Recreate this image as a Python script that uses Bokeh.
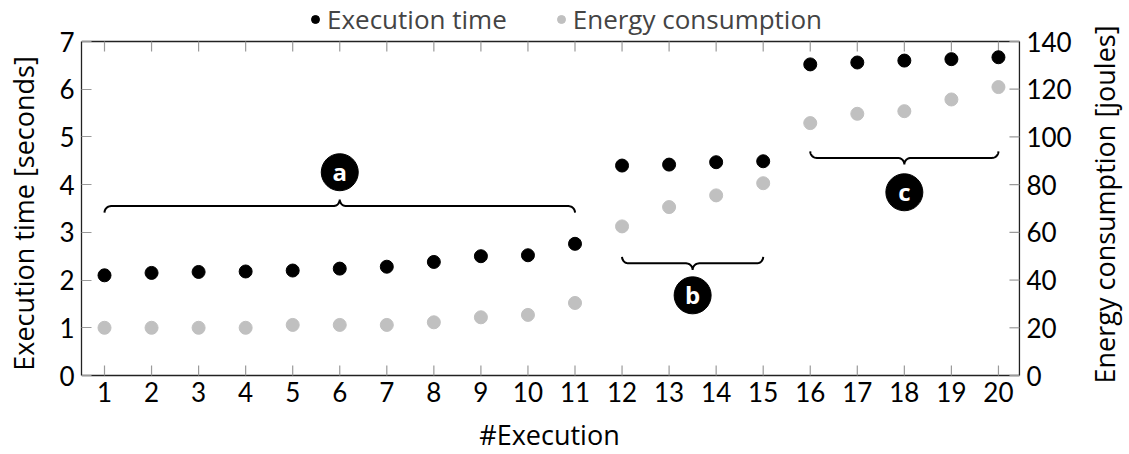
import math
import numpy as np
from bokeh.plotting import figure
from bokeh.models import Range1d, FixedTicker, Legend, LegendItem
from bokeh.core.properties import value
from bokeh.embed import file_html
from bokeh.resources import INLINE

# ---------------- data ----------------
executions = list(range(1, 21))
exec_time = [2.10, 2.15, 2.17, 2.18, 2.20, 2.24, 2.28, 2.38, 2.50, 2.52,
             2.76, 4.40, 4.42, 4.47, 4.49, 6.52, 6.56, 6.60, 6.63, 6.67]
energy = [20.0, 20.0, 20.0, 20.0, 21.2, 21.2, 21.2, 22.3, 24.4, 25.4,
          30.4, 62.5, 70.6, 75.5, 80.6, 105.8, 109.7, 110.8, 115.7, 120.9]

x_ticks = list(range(1, 21))
x_tick_labels = [str(v) for v in x_ticks]
left_ticks = [0, 1, 2, 3, 4, 5, 6, 7]
right_ticks = [0, 20, 40, 60, 80, 100, 120, 140]
right_tick_labels = ["0", "20", "40", "60", "80", "100", "120", "140"]

group_labels = ["a", "b", "c"]
group_start = [1, 12, 16]
group_end = [11, 15, 20]
brace_y = [3.55, 2.35, 4.56]
brace_dir = [1, -1, -1]      # 1: tip points up, -1: tip points down
badge_x = [6, 13.5, 18]
badge_y = [4.26, 1.68, 3.84]

TICK_FONT = "Lato"
TEXT_FONT = "Open Sans"
FS = "26px"
LABEL_FS = "27px"
NBSP = "\u00a0"

W, H = 1129, 454
BL = 81
AXIS_TOP_PX = 41        # pixel row of the top axis line
AXIS_BOTTOM_PX = 375    # pixel row of the bottom axis line
PX_PER_X = 47.05
X0 = 1 - 23 / PX_PER_X                # left axis position
X_AX = 20 + 21 / PX_PER_X             # right axis position
X1 = X0 + (W - BL) / PX_PER_X         # frame runs to the canvas edge
YMAX = 7
EMAX = 140
PX_PER_Y = (AXIS_BOTTOM_PX - AXIS_TOP_PX) / YMAX
Y0 = -(H - AXIS_BOTTOM_PX) / PX_PER_Y  # frame runs to the canvas bottom
Y1 = YMAX + AXIS_TOP_PX / PX_PER_Y     # and to the canvas top (legend room)
E_SCALE = EMAX / YMAX

p = figure(width=W, height=H, x_range=Range1d(X0, X1), y_range=Range1d(Y0, Y1),
           output_backend="svg", toolbar_location=None, x_axis_location=None,
           min_border_left=BL, min_border_right=0, min_border_top=0, min_border_bottom=0)
p.extra_y_ranges = {"energy": Range1d(Y0 * E_SCALE, Y1 * E_SCALE)}
p.xgrid.visible = False
p.ygrid.visible = False
p.outline_line_color = None
p.background_fill_color = "white"
p.border_fill_color = "white"

TICK_COLOR = "#9a9a9a"
AXIS_COLOR = "#222222"
TICK_PX = 10

# left axis (real axis, bounded to 0..7; leading spaces re-center its title)
ya = p.yaxis[0]
ya.bounds = (0, YMAX)
ya.ticker = FixedTicker(ticks=left_ticks)
ya.major_tick_in = TICK_PX
ya.major_tick_out = 0
ya.minor_tick_in = 0
ya.minor_tick_out = 0
ya.major_tick_line_color = TICK_COLOR
ya.major_tick_line_width = 1.2
ya.axis_line_color = AXIS_COLOR
ya.axis_line_width = 1.3
ya.major_label_text_font = TICK_FONT
ya.major_label_text_font_size = FS
ya.major_label_text_color = "black"
ya.major_label_standoff = 7
ya.axis_label = NBSP * 4 + "Execution time [seconds]"
ya.axis_label_text_font = TEXT_FONT
ya.axis_label_text_font_size = LABEL_FS
ya.axis_label_text_font_style = "normal"
ya.axis_label_text_color = "black"
ya.axis_label_standoff = 14

ax_px, ay_px = PX_PER_X, PX_PER_Y
nx, nr = len(x_ticks), len(right_ticks)

# bottom axis
p.segment(x0=[X0], y0=[0], x1=[X_AX], y1=[0], line_color=AXIS_COLOR, line_width=1.3)
p.segment(x0=x_ticks, y0=[0] * nx, x1=x_ticks, y1=[TICK_PX / ay_px] * nx,
          line_color=TICK_COLOR, line_width=1.2)
p.text(x=x_ticks, y=[0] * nx, text=x_tick_labels, y_offset=6,
       text_align="center", text_baseline="top",
       text_font=value(TICK_FONT), text_font_size=FS, text_color="black")
p.text(x=[X0 + (549 - BL) / ax_px], y=[0], text=["#Execution"], y_offset=59,
       text_align="center", text_baseline="middle",
       text_font=value(TEXT_FONT), text_font_size=LABEL_FS, text_color="black")

# top border with inward ticks
p.segment(x0=[X0], y0=[YMAX], x1=[X_AX], y1=[YMAX], line_color=AXIS_COLOR, line_width=1.3)
p.segment(x0=x_ticks, y0=[YMAX] * nx, x1=x_ticks, y1=[YMAX - TICK_PX / ay_px] * nx,
          line_color=TICK_COLOR, line_width=1.2)

# right (energy) axis on the energy scale
p.segment(x0=[X_AX], y0=[0], x1=[X_AX], y1=[EMAX], y_range_name="energy",
          line_color=AXIS_COLOR, line_width=1.3)
p.segment(x0=[X_AX] * nr, y0=right_ticks, x1=[X_AX - TICK_PX / ax_px] * nr, y1=right_ticks,
          y_range_name="energy", line_color=TICK_COLOR, line_width=1.2)
p.text(x=[X_AX] * nr, y=right_ticks, text=right_tick_labels, y_range_name="energy",
       x_offset=7, text_align="left", text_baseline="middle",
       text_font=value(TICK_FONT), text_font_size=FS, text_color="black")
p.text(x=[X_AX + 85 / ax_px], y=[EMAX / 2], text=["Energy consumption [joules]"],
       y_range_name="energy", angle=math.pi / 2, y_offset=-4,
       text_align="center", text_baseline="middle",
       text_font=value(TEXT_FONT), text_font_size=LABEL_FS, text_color="black")

# ---------------- scatter ----------------
r_time = p.scatter(executions, exec_time, size=13, color="black")
r_energy = p.scatter(executions, energy, y_range_name="energy", size=13, color="#c0c0c0")

# ---------------- braces ----------------
R = 6.5  # px

def brace(x0, x1, y, d):
    rx, ry = R / ax_px, R / ay_px
    xm = (x0 + x1) / 2
    t = np.linspace(0, np.pi / 2, 12)
    xs, ys = [], []
    cx, cy = x0 + rx, y - d * ry
    xs += list(cx - rx * np.cos(t)); ys += list(cy + d * ry * np.sin(t))
    cx, cy = xm - rx, y + d * ry
    xs += list(cx + rx * np.sin(t)); ys += list(cy - d * ry * np.cos(t))
    cx, cy = xm + rx, y + d * ry
    xs += list(cx - rx * np.cos(t)); ys += list(cy - d * ry * np.sin(t))
    cx, cy = x1 - rx, y - d * ry
    xs += list(cx + rx * np.sin(t)); ys += list(cy + d * ry * np.cos(t))
    return xs, ys

bxs, bys = [], []
for s, e, yy, d in zip(group_start, group_end, brace_y, brace_dir):
    xs, ys = brace(s, e, yy, d)
    bxs.append(xs); bys.append(ys)
p.multi_line(bxs, bys, line_color="black", line_width=2)

# badges
p.scatter(badge_x, badge_y, size=37, color="black")
p.text(badge_x, badge_y, text=group_labels, text_color="white",
       text_font=value("Open Sans"), text_font_style="bold", text_font_size="24px",
       text_align="center", text_baseline="middle", y_offset=-1)

# legend (inside the frame, above the top axis line)
legend = Legend(items=[LegendItem(label="Execution time", renderers=[r_time]),
                       LegendItem(label="Energy consumption", renderers=[r_energy])],
                orientation="horizontal", location=(224, 417),
                label_text_font=TEXT_FONT, label_text_font_size=FS,
                glyph_width=20, glyph_height=20, label_standoff=2, spacing=44,
                padding=0, margin=0, border_line_alpha=0, background_fill_alpha=0)
p.add_layout(legend, "center")

open("out.html", "w").write(file_html(p, INLINE))
